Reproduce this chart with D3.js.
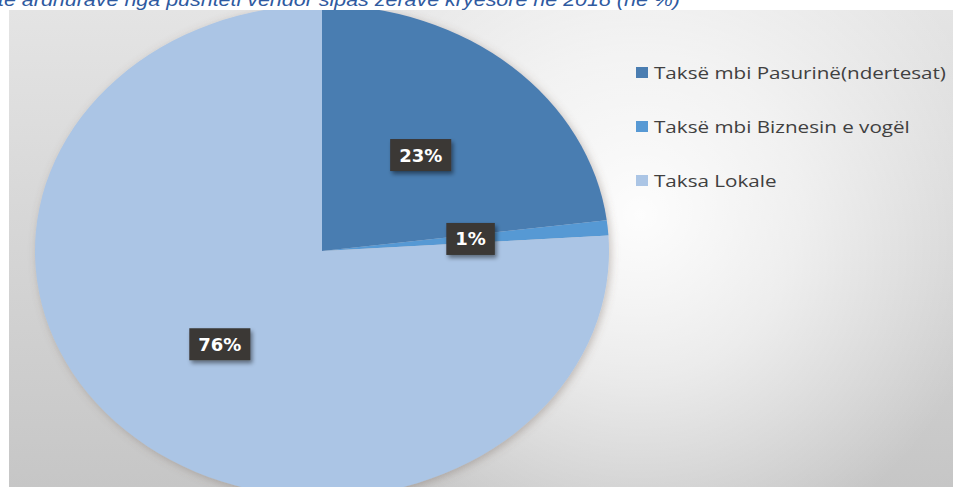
<!DOCTYPE html>
<html>
<head>
<meta charset="utf-8">
<script src="https://cdn.jsdelivr.net/npm/d3@7"></script>
<style>
  html, body { margin: 0; padding: 0; background: #ffffff; }
  svg { display: block; }
</style>
</head>
<body>
<svg id="chart" width="953" height="487"></svg>
<script>
// Revenue shares of local government by main item, 2018 (%)
const title = "të ardhurave nga pushteti vendor sipas zërave kryesore në 2018 (në %)";
const categories = ["Taksë mbi Pasurinë(ndertesat)", "Taksë mbi Biznesin e vogël", "Taksa Lokale"];
const values = [23, 1, 76];
const labels = ["23%", "1%", "76%"];
const colors = ["#4a7db1", "#5799d4", "#abc5e5"];

const W = 953, H = 487;
const svg = d3.select("#chart");
const defs = svg.append("defs");

// chart-area background: vertical shading plus a soft highlight on the right
const lin = defs.append("linearGradient").attr("id", "bgLin")
  .attr("x1", 0).attr("y1", 0).attr("x2", 0).attr("y2", 1);
lin.append("stop").attr("offset", 0).attr("stop-color", "#e4e4e4");
lin.append("stop").attr("offset", 1).attr("stop-color", "#c6c6c6");

const rad = defs.append("radialGradient").attr("id", "bgRad")
  .attr("gradientUnits", "userSpaceOnUse")
  .attr("cx", 640).attr("cy", 215).attr("r", 360);
rad.append("stop").attr("offset", 0).attr("stop-color", "#ffffff").attr("stop-opacity", 0.95);
rad.append("stop").attr("offset", 0.45).attr("stop-color", "#ffffff").attr("stop-opacity", 0.6);
rad.append("stop").attr("offset", 1).attr("stop-color", "#ffffff").attr("stop-opacity", 0);

const area = { x: 9, y: 10, w: W - 9, h: H - 10 };
defs.append("clipPath").attr("id", "areaClip")
  .append("rect").attr("x", area.x).attr("y", area.y).attr("width", area.w).attr("height", area.h);

const pieShadow = defs.append("filter").attr("id", "pieShadow")
  .attr("x", "-10%").attr("y", "-10%").attr("width", "120%").attr("height", "120%");
pieShadow.append("feDropShadow").attr("dx", 2).attr("dy", 2).attr("stdDeviation", 4)
  .attr("flood-color", "#6a5a50").attr("flood-opacity", 0.35);

const boxShadow = defs.append("filter").attr("id", "boxShadow")
  .attr("x", "-30%").attr("y", "-30%").attr("width", "160%").attr("height", "160%");
boxShadow.append("feDropShadow").attr("dx", 2).attr("dy", 3).attr("stdDeviation", 2.2)
  .attr("flood-color", "#000000").attr("flood-opacity", 0.45);

// title (its upper half runs above the frame of the page)
svg.append("text")
  .attr("x", -2).attr("y", 6)
  .attr("font-family", "'Liberation Sans Narrow', 'Liberation Sans', sans-serif")
  .attr("font-style", "italic")
  .attr("font-size", 19)
  .attr("fill", "#2f5aa0")
  .attr("textLength", 682).attr("lengthAdjust", "spacingAndGlyphs")
  .text(title);

const plot = svg.append("g").attr("clip-path", "url(#areaClip)");
plot.append("rect").attr("x", area.x).attr("y", area.y).attr("width", area.w).attr("height", area.h)
  .attr("fill", "url(#bgLin)");
plot.append("rect").attr("x", area.x).attr("y", area.y).attr("width", area.w).attr("height", area.h)
  .attr("fill", "url(#bgRad)");

// elliptical pie: unit-circle arcs scaled to the ellipse radii
const cx = 322, cy = 251, rx = 287, ry = 246, R = 100;
const pie = d3.pie().sort(null).value(d => d)(values);
const arc = d3.arc().innerRadius(0).outerRadius(R);
const labelArc = d3.arc().innerRadius(R * 0.52).outerRadius(R * 0.52);

const pieG = plot.append("g")
  .attr("filter", "url(#pieShadow)")
  .append("g")
  .attr("transform", `translate(${cx},${cy}) scale(${rx / R},${ry / R})`);
pieG.selectAll("path").data(pie).join("path")
  .attr("d", arc)
  .attr("fill", (d, i) => colors[i]);

// data labels in dark boxes
const lab = plot.append("g").selectAll("g").data(pie).join("g")
  .attr("transform", d => {
    const [x, y] = labelArc.centroid(d);
    return `translate(${cx + x * rx / R},${cy + y * ry / R})`;
  });
lab.each(function (d, i) {
  const g = d3.select(this);
  const rect = g.append("rect").attr("fill", "#3a3836").attr("filter", "url(#boxShadow)");
  const t = g.append("text")
    .attr("text-anchor", "middle").attr("dy", "0.36em")
    .attr("font-family", "'DejaVu Sans', sans-serif")
    .attr("font-weight", "bold").attr("font-size", 18)
    .attr("fill", "#ffffff")
    .text(labels[i]);
  const bw = t.node().getComputedTextLength() + 18;
  rect.attr("x", -bw / 2).attr("y", -16).attr("width", bw).attr("height", 32);
});

// legend
const legend = svg.append("g").attr("transform", "translate(636,0)");
const rowY = d3.scalePoint().domain(categories).range([73, 181]);
const item = legend.selectAll("g").data(categories).join("g")
  .attr("transform", d => `translate(0,${rowY(d)})`);
item.append("rect").attr("x", 0).attr("y", -6).attr("width", 12).attr("height", 11)
  .attr("fill", (d, i) => colors[i]);
item.append("text")
  .attr("transform", "translate(18,0) scale(1.29,1)")
  .attr("dy", "0.35em")
  .attr("font-family", "'Open Sans', sans-serif").attr("font-size", 16)
  .attr("fill", "#404040")
  .text(d => d);
</script>
</body>
</html>
